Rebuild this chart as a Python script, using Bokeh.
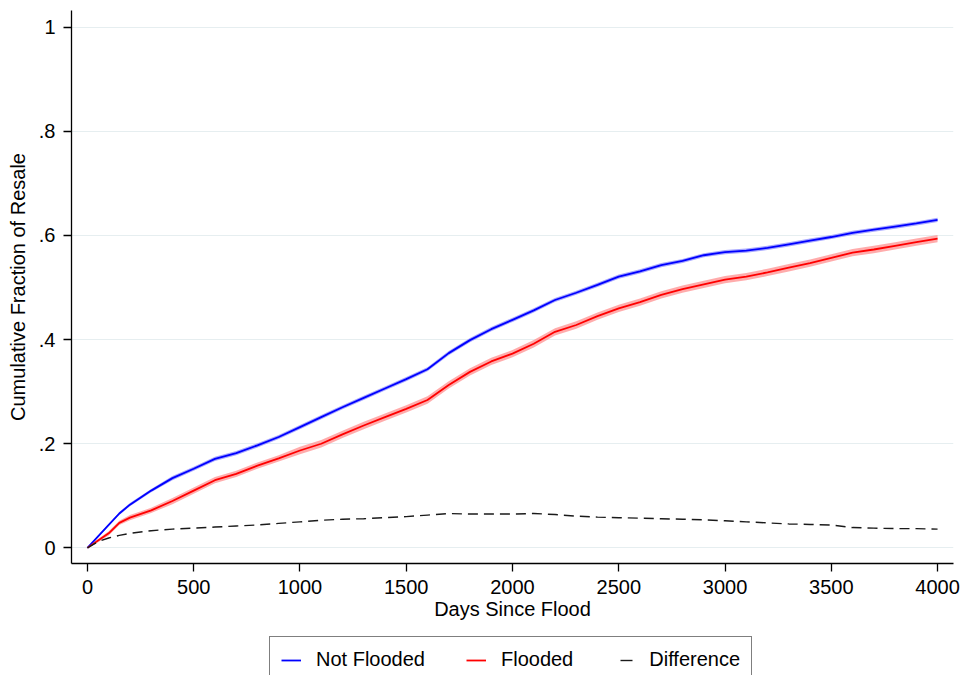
from bokeh.plotting import figure
from bokeh.models import ColumnDataSource, FixedTicker, Range1d, Legend, LegendItem
from bokeh.layouts import column
from bokeh.embed import file_html
from bokeh.resources import INLINE

days = [0, 50, 100, 150, 200, 300, 400, 500, 600, 700, 800, 900, 1000, 1100, 1200, 1300,
        1400, 1500, 1600, 1700, 1800, 1900, 2000, 2100, 2200, 2300, 2400, 2500, 2600, 2700,
        2800, 2900, 3000, 3100, 3200, 3300, 3400, 3500, 3600, 3700, 3800, 3900, 4000]

not_flooded = [0.000, 0.022, 0.044, 0.066, 0.083, 0.110, 0.134, 0.152, 0.171, 0.182, 0.197,
               0.213, 0.232, 0.251, 0.270, 0.288, 0.306, 0.324, 0.343, 0.374, 0.399, 0.420,
               0.438, 0.456, 0.476, 0.490, 0.505, 0.521, 0.531, 0.543, 0.551, 0.562, 0.568,
               0.571, 0.576, 0.583, 0.590, 0.597, 0.605, 0.611, 0.617, 0.623, 0.630]

flooded = [0.000, 0.014, 0.028, 0.048, 0.058, 0.072, 0.090, 0.110, 0.130, 0.142, 0.158,
           0.172, 0.187, 0.200, 0.218, 0.235, 0.251, 0.267, 0.284, 0.313, 0.338, 0.358,
           0.373, 0.392, 0.415, 0.428, 0.445, 0.460, 0.472, 0.486, 0.497, 0.506, 0.515,
           0.521, 0.529, 0.538, 0.547, 0.557, 0.567, 0.573, 0.580, 0.587, 0.594]

difference = [0.000, 0.012, 0.019, 0.024, 0.028, 0.033, 0.036, 0.038, 0.040, 0.042, 0.044,
              0.047, 0.050, 0.053, 0.055, 0.056, 0.058, 0.060, 0.063, 0.066, 0.065, 0.065,
              0.065, 0.066, 0.064, 0.061, 0.059, 0.058, 0.057, 0.056, 0.055, 0.054, 0.052,
              0.050, 0.048, 0.046, 0.045, 0.044, 0.039, 0.038, 0.037, 0.037, 0.036]

# confidence half-widths
not_flooded_ci = [0.000, 0.002, 0.002, 0.003, 0.003, 0.003, 0.004, 0.004, 0.004, 0.004, 0.004,
                  0.004, 0.004, 0.004, 0.004, 0.004, 0.004, 0.004, 0.004, 0.004, 0.004, 0.004,
                  0.004, 0.004, 0.004, 0.004, 0.004, 0.004, 0.004, 0.004, 0.004, 0.004, 0.004,
                  0.004, 0.004, 0.004, 0.004, 0.004, 0.004, 0.004, 0.004, 0.004, 0.004]
flooded_ci = [0.000, 0.003, 0.004, 0.004, 0.005, 0.005, 0.006, 0.006, 0.006, 0.006, 0.006,
              0.006, 0.007, 0.007, 0.007, 0.007, 0.007, 0.007, 0.007, 0.007, 0.007, 0.007,
              0.007, 0.007, 0.007, 0.007, 0.007, 0.007, 0.007, 0.007, 0.007, 0.007, 0.007,
              0.007, 0.007, 0.007, 0.007, 0.007, 0.007, 0.007, 0.007, 0.007, 0.007]

y_ticks = [0, 0.2, 0.4, 0.6, 0.8, 1.0]
y_tick_labels = ["0", ".2", ".4", ".6", ".8", "1"]
x_ticks = [0, 500, 1000, 1500, 2000, 2500, 3000, 3500, 4000]
x_tick_labels = ["0", "500", "1000", "1500", "2000", "2500", "3000", "3500", "4000"]
series_labels = ["Not Flooded", "Flooded", "Difference"]

FONT = "Liberation Sans"
BLUE, RED, BLACK = "#0000ff", "#ff0000", "#1a1a1a"

src = ColumnDataSource(dict(
    d=days, nf=not_flooded, fl=flooded, df=difference,
    nf_lo=[v - c for v, c in zip(not_flooded, not_flooded_ci)],
    nf_hi=[v + c for v, c in zip(not_flooded, not_flooded_ci)],
    fl_lo=[v - c for v, c in zip(flooded, flooded_ci)],
    fl_hi=[v + c for v, c in zip(flooded, flooded_ci)],
))

p = figure(width=964, height=632, output_backend="svg", toolbar_location=None,
           x_range=Range1d(-75, 4075), y_range=Range1d(-0.030, 1.032),
           min_border_left=71, min_border_right=11, min_border_top=10, min_border_bottom=69)
p.outline_line_color = None
p.background_fill_color = "white"
p.border_fill_color = "white"

p.varea(x="d", y1="nf_lo", y2="nf_hi", source=src, fill_color="#8080ff", fill_alpha=0.7)
p.varea(x="d", y1="fl_lo", y2="fl_hi", source=src, fill_color="#ff9090", fill_alpha=0.75)
p.line(x="d", y="nf", source=src, line_color=BLUE, line_width=1.8)
p.line(x="d", y="fl", source=src, line_color=RED, line_width=1.8)
p.line(x="d", y="df", source=src, line_color=BLACK, line_width=1.4, line_dash="10 6")

# axes
p.xaxis.ticker = FixedTicker(ticks=x_ticks)
p.xaxis.major_label_overrides = {t: l for t, l in zip(x_ticks, x_tick_labels)}
p.yaxis.ticker = FixedTicker(ticks=y_ticks)
p.yaxis.major_label_overrides = {t: l for t, l in zip(y_ticks, y_tick_labels)}
for ax in (p.xaxis[0], p.yaxis[0]):
    ax.axis_line_color = "black"
    ax.axis_line_width = 1.3
    ax.major_tick_line_color = "black"
    ax.major_tick_line_width = 1.3
    ax.major_tick_in = 0
    ax.major_tick_out = 8
    ax.minor_tick_line_color = None
    ax.major_label_text_font = FONT
    ax.major_label_text_font_size = "20px"
    ax.major_label_text_color = "black"
    ax.axis_label_text_font = FONT
    ax.axis_label_text_font_size = "20px"
    ax.axis_label_text_font_style = "normal"
    ax.axis_label_text_color = "black"
p.xaxis.axis_label = "Days Since Flood"
p.yaxis.axis_label = "Cumulative Fraction of Resale"
p.xaxis.major_label_standoff = 8
p.xaxis.axis_label_standoff = 1
p.yaxis.major_label_standoff = 8
p.yaxis.axis_label_standoff = 7
p.yaxis.major_label_orientation = "horizontal"

p.xgrid.grid_line_color = None
p.ygrid.ticker = FixedTicker(ticks=y_ticks)
p.ygrid.grid_line_color = "#e6eef0"
p.ygrid.grid_line_width = 1.2

# legend strip below the chart (its lines lie outside its own ranges; only the legend shows)
q = figure(width=964, height=43, output_backend="svg", toolbar_location=None,
           x_range=Range1d(-20000, -10000), y_range=Range1d(-20, -10),
           x_axis_type=None, y_axis_type=None,
           min_border_left=71, min_border_right=11, min_border_top=0, min_border_bottom=0)
q.outline_line_color = None
q.xgrid.grid_line_color = None
q.ygrid.grid_line_color = None
q.background_fill_color = "white"
q.border_fill_color = "white"
g_nf = q.line(x="d", y="nf", source=src, line_color=BLUE, line_width=1.8)
g_fl = q.line(x="d", y="fl", source=src, line_color=RED, line_width=1.8)
g_df = q.line(x="d", y="df", source=src, line_color=BLACK, line_width=1.4,
              line_dash="12 10", line_dash_offset=16)

legend = Legend(items=[
    LegendItem(label=series_labels[0], renderers=[g_nf]),
    LegendItem(label=series_labels[1], renderers=[g_fl]),
    LegendItem(label=series_labels[2], renderers=[g_df]),
], orientation="horizontal", location=(198, -8))
legend.label_text_font = FONT
legend.label_text_font_size = "20px"
legend.label_text_color = "black"
legend.glyph_width = 20
legend.glyph_height = 20
legend.label_standoff = 15
legend.spacing = 41
legend.padding = 11
legend.margin = 0
legend.border_line_color = "black"
legend.border_line_width = 1.3
legend.background_fill_color = "white"
legend.background_fill_alpha = 1.0
q.add_layout(legend, "center")

layout = column(p, q, spacing=0)
open("out.html", "w").write(file_html(layout, INLINE))
